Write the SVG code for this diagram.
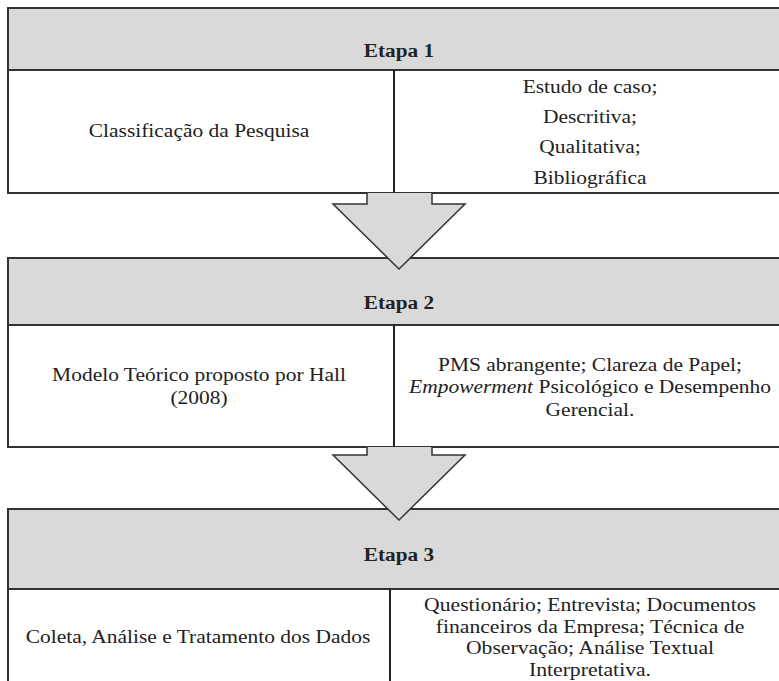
<svg xmlns="http://www.w3.org/2000/svg" width="779" height="681" viewBox="0 0 779 681">
<style>
.hdr{fill:#d9d9d9;stroke:#333;stroke-width:2}
.cell{fill:#fff;stroke:#333;stroke-width:2}
.ln{stroke:#222;stroke-width:2;fill:none}
.arr{fill:#d9d9d9;stroke:none}
.arro{fill:none;stroke:#333;stroke-width:1.5;stroke-linejoin:miter}
text{font-size:19px;fill:#222;text-anchor:middle}
.b{font-weight:bold}
</style>
<rect width="779" height="681" fill="#fff"/>
<g font-family="'Liberation Serif', 'DejaVu Serif', serif">
<g id="etapa1">
<rect class="hdr" x="8" y="8" width="800" height="62"/>
<rect class="cell" x="8" y="70" width="800" height="123"/>
<line class="ln" x1="394" y1="70" x2="394" y2="193"/>
<g transform="translate(399,0) scale(1.12,1)"><text class="b" x="0" y="57">Etapa 1</text></g>
<g transform="translate(199,0) scale(1.13,1)"><text x="0" y="137">Classificação da Pesquisa</text></g>
<g transform="translate(590,0) scale(1.13,1)">
<text x="0" y="93">Estudo de caso;</text>
<text x="0" y="123">Descritiva;</text>
<text x="0" y="153">Qualitativa;</text>
<text x="0" y="184">Bibliográfica</text>
</g>
</g>
<g id="etapa2">
<rect class="hdr" x="8" y="258" width="800" height="67"/>
<rect class="cell" x="8" y="325" width="800" height="122"/>
<line class="ln" x1="394" y1="325" x2="394" y2="447"/>
<g transform="translate(399,0) scale(1.12,1)"><text class="b" x="0" y="309">Etapa 2</text></g>
<g transform="translate(199,0) scale(1.13,1)">
<text x="0" y="381">Modelo Teórico proposto por Hall</text>
<text x="0" y="404">(2008)</text>
</g>
<g transform="translate(590,0) scale(1.13,1)">
<text x="0" y="371">PMS abrangente; Clareza de Papel;</text>
<text x="0" y="393"><tspan font-style="italic">Empowerment</tspan> Psicológico e Desempenho</text>
<text x="0" y="416">Gerencial.</text>
</g>
</g>
<g id="etapa3">
<rect class="hdr" x="8" y="509" width="800" height="80"/>
<rect class="cell" x="8" y="589" width="800" height="120"/>
<line class="ln" x1="390" y1="589" x2="390" y2="681"/>
<g transform="translate(399,0) scale(1.12,1)"><text class="b" x="0" y="561">Etapa 3</text></g>
<g transform="translate(198,0) scale(1.13,1)"><text x="0" y="643">Coleta, Análise e Tratamento dos Dados</text></g>
<g transform="translate(590,0) scale(1.14,1)">
<text x="0" y="611">Questionário; Entrevista; Documentos</text>
<text x="0" y="633">financeiros da Empresa; Técnica de</text>
<text x="0" y="654">Observação; Análise Textual</text>
<text x="0" y="676">Interpretativa.</text>
</g>
</g>
</g>
<g id="connectors">
<polygon class="arr" points="367,193 432,193 432,204 465,204 399,269 333,204 367,204"/>
<polyline class="arro" points="432,193 432,204 465,204 399,269 333,204 367,204 367,193"/>
<polygon class="arr" points="367,447 432,447 432,455 465,455 399,520 333,455 367,455"/>
<polyline class="arro" points="432,447 432,455 465,455 399,520 333,455 367,455 367,447"/>
</g>
</svg>
